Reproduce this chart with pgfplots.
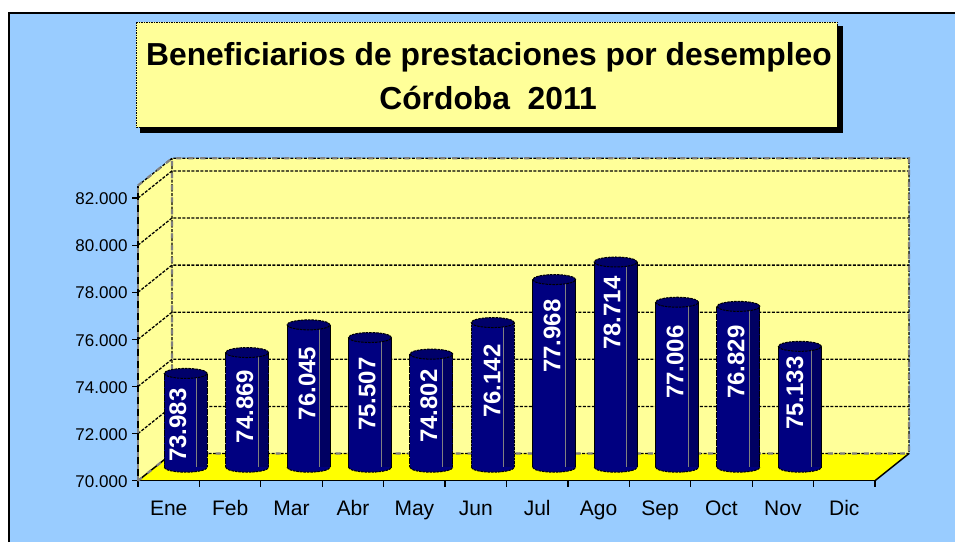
\documentclass[border=0pt]{standalone}
\usepackage{fontspec}
\setmainfont{Liberation Sans}
\usepackage{pgfplots}
\usepackage{pgfplotstable}
\pgfplotsset{compat=1.18}
\definecolor{bgblue}{HTML}{99CCFF}
\definecolor{wall}{HTML}{FFFF99}
\definecolor{flr}{HTML}{FFFF00}
\definecolor{barmain}{HTML}{000080}
\definecolor{barside}{HTML}{000062}
\definecolor{bartop}{HTML}{00006A}
\definecolor{edgegray}{HTML}{808080}
\pgfdeclareplotmark{cyl}{%
  \pgfpathellipse{\pgfpointorigin}{\pgfqpoint{21.5pt}{0pt}}{\pgfqpoint{0pt}{5pt}}%
  \pgfusepathqfillstroke}
\pgfdeclareplotmark{cylbase}{%
  \pgfpathmoveto{\pgfqpoint{-21.5pt}{0pt}}%
  \pgfpatharc{180}{360}{21.5pt and 5pt}%
  \pgfusepath{fill,stroke}}
\pgfplotstableread{
x value
0.5 73983
1.5 74869
2.5 76045
3.5 75507
4.5 74802
5.5 76142
6.5 77968
7.5 78714
8.5 77006
9.5 76829
10.5 75133
}\bardata
\tikzset{griddash/.style={black,line width=1.3pt,dash pattern=on 3pt off 1.5pt},
  bardash/.style={draw=black,line width=1pt,dash pattern=on 2.5pt off 1pt}}
\begin{document}
\begin{tikzpicture}[x=1pt,y=1pt]
\path[use as bounding box] (0,0) rectangle (955,-542);
\fill[white] (0,0) rectangle (955,-542);
\fill[bgblue] (8,-12) rectangle (955,-542);
\draw[black,line width=2pt] (9,-542) -- (9,-12.5) -- (955,-12.5);
% title box
\fill[black] (140,-26) rectangle (843,-133);
\fill[wall] (136,-22) rectangle (837,-127);
\draw[black,line width=0.9pt,dash pattern=on 1.5pt off 1pt] (136,-22) rectangle (837,-127);
\node[font=\fontsize{31.8}{32}\selectfont\bfseries,anchor=center] at (489,-57.5) {Beneficiarios de prestaciones por desempleo};
\node[font=\fontsize{31.8}{32}\selectfont\bfseries,anchor=center] at (488,-97.5) {Córdoba\ \ 2011};
% walls, floor, ticks: front plane of the chart
\begin{axis}[
  at={(138pt,-480.7pt)},anchor=south west,
  scale only axis,width=737pt,height=295.2pt,
  xmin=0,xmax=12,ymin=70000,ymax=82535,
  clip=false,
  axis y line*=left,axis x line*=bottom,
  axis line style={black,line width=1.5pt},
  xtick={0.5,1.5,2.5,3.5,4.5,5.5,6.5,7.5,8.5,9.5,10.5,11.5},
  xticklabels={Ene,Feb,Mar,Abr,May,Jun,Jul,Ago,Sep,Oct,Nov,Dic},
  minor xtick={0,1,...,12},
  ytick={70000,72000,...,82000},
  scaled y ticks=false,
  major x tick style={draw=none},
  minor tick length=6pt,
  major tick length=6pt,
  tick align=outside,
  tick style={black,line width=1.3pt},
  every x tick label/.append style={font=\fontsize{21}{21}\selectfont,yshift=-14pt,inner sep=0pt,text height=15pt,text depth=0pt},
  every y tick label/.append style={font=\fontsize{17}{17}\selectfont,xshift=-1pt,yshift=-0.8pt},
  yticklabel style={/pgf/number format/.cd,fixed,1000 sep={.},assume math mode=true},
]
% left wall
\addplot[fill=wall,draw=none] coordinates {(0,70000)(0.5536,71155)(0.5536,83690)(0,82535)} --cycle;
% back wall
\addplot[fill=wall,draw=none] coordinates {(0.5536,71155)(12.5536,71155)(12.5536,83690)(0.5536,83690)} --cycle;
% floor
\addplot[fill=flr,draw=none] coordinates {(0,70000)(12,70000)(12.5536,71155)(0.5536,71155)} --cycle;
% gridlines
\addplot[griddash] coordinates {(0,72000)(0.5536,73155)(12.5536,73155)};
\addplot[griddash] coordinates {(0,74000)(0.5536,75155)(12.5536,75155)};
\addplot[griddash] coordinates {(0,76000)(0.5536,77155)(12.5536,77155)};
\addplot[griddash] coordinates {(0,78000)(0.5536,79155)(12.5536,79155)};
\addplot[griddash] coordinates {(0,80000)(0.5536,81155)(12.5536,81155)};
\addplot[griddash] coordinates {(0,82000)(0.5536,83155)(12.5536,83155)};
% wall edges and the two axis lines
\addplot[griddash] coordinates {(0,82535)(0.5536,83690)(12.5536,83690)(12.5536,71155)(0.5536,71155)(0.5536,83690)};
\addplot[black,line width=1.5pt] coordinates {(0,70000)(0.5536,71155)};
\addplot[black,line width=1.5pt] coordinates {(12,70000)(12.5536,71155)};
\addplot[black,line width=1.5pt] coordinates {(0,82535)(0,70000)(12,70000)};
\addplot[edgegray,line width=2.2pt,dash pattern=on 5pt off 7pt] coordinates {(0,82535)(0.5536,83690)(12.5536,83690)(12.5536,71155)(0.5536,71155)(0.5536,83690)};
\addplot[edgegray,line width=2.2pt,dash pattern=on 5pt off 7pt] coordinates {(0,70000)(0.5536,71155)};
\addplot[edgegray,line width=2.2pt,dash pattern=on 5pt off 7pt] coordinates {(0,70000)(0,82535)};
\end{axis}
% the bars stand half way into the depth of the chart
\begin{axis}[
  at={(155pt,-467.2pt)},anchor=south west,
  scale only axis,width=737pt,height=295.2pt,
  xmin=0,xmax=12,ymin=70000,ymax=82535,
  clip=false,hide axis,
]
% bases
\addplot[only marks,mark=cylbase,mark options={fill=barmain,bardash}] table[x=x,y expr=70000] {\bardata};
% bodies
\addplot[ybar,bar width=43pt,bar shift=0pt,fill=barmain,draw=none] table[x=x,y=value] {\bardata};
% darker right side of each bar
\addplot[ybar,bar width=10.5pt,bar shift=16.2pt,fill=barside,draw=none] table[x=x,y=value] {\bardata};
\addplot[ybar,bar width=0pt,bar shift=11pt,draw=edgegray,line width=0.7pt] table[x=x,y=value] {\bardata};
% outlines of the sides
\addplot[ybar,bar width=0pt,bar shift=-21.5pt,bardash] table[x=x,y=value] {\bardata};
\addplot[ybar,bar width=0pt,bar shift=21.5pt,bardash] table[x=x,y=value] {\bardata};
% tops
\addplot[only marks,mark=cyl,mark options={fill=bartop,bardash}] table[x=x,y=value] {\bardata};
\tikzset{val/.style={rotate=90,text=white,inner sep=0pt,font=\fontsize{24}{24}\selectfont\bfseries}}
\node[val] at (axis cs:0.374,71792) {73.983};
\node[val] at (axis cs:1.465,72578) {74.869};
\node[val] at (axis cs:2.475,73554) {76.045};
\node[val] at (axis cs:3.452,73108) {75.507};
\node[val] at (axis cs:4.461,72599) {74.802};
\node[val] at (axis cs:5.487,73660) {76.142};
\node[val] at (axis cs:6.464,75571) {77.968};
\node[val] at (axis cs:7.441,76548) {78.714};
\node[val] at (axis cs:8.467,74467) {77.006};
\node[val] at (axis cs:9.46,74467) {76.829};
\node[val] at (axis cs:10.42,73151) {75.133};
\end{axis}
\end{tikzpicture}
\end{document}
